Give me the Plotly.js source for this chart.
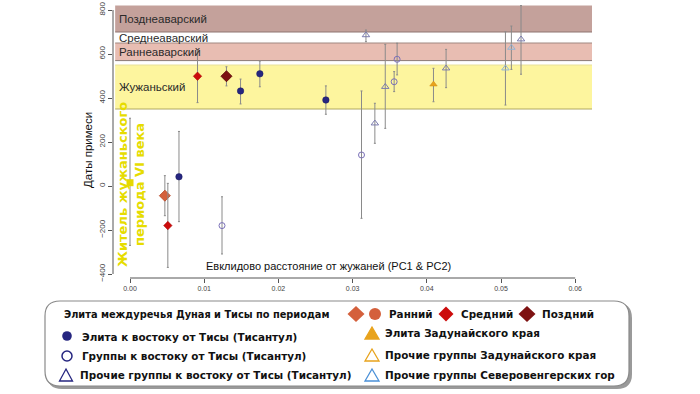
<!DOCTYPE html>
<html><head><meta charset="utf-8">
<script src="https://cdn.plot.ly/plotly-3.0.1.min.js"></script>
<style>html,body{margin:0;padding:0;background:#fff}#c{width:700px;height:394px}</style>
</head><body><div id="c"></div>
<script>
// ---- data ----
const periodNames = ["Позднеаварский","Среднеаварский","Раннеаварский","Жужаньский"];
const periodFrom  = [700, 650, 570, 350];
const periodTo    = [820, 700, 650, 550];

const zhuX = [0.0000], zhuY = [15], zhuLo = [-270], zhuHi = [308];
const earlyX = [0.0047], earlyY = [-44], earlyLo = [-135], earlyHi = [47];
const midX = [0.0051, 0.0091], midY = [-180, 499], midLo = [-370, 379], midHi = [12, 618];
const lateX = [0.0130], lateY = [499], lateLo = [455], lateHi = [542];
const eliteEastX = [0.0066, 0.0149, 0.0175, 0.0264];
const eliteEastY = [42, 432, 510, 391];
const eliteEastLo = [-162, 373, 451, 326];
const eliteEastHi = [248, 486, 568, 455];
const grpEastX = [0.0124, 0.0312, 0.0356, 0.0360];
const grpEastY = [-180, 141, 474, 576];
const grpEastLo = [-309, -147, 429, 505];
const grpEastHi = [-49, 432, 520, 649];
const othEastX = [0.0318, 0.0330, 0.0344, 0.0426, 0.0527];
const othEastY = [686, 285, 451, 535, 667];
const othEastLo = [656, 194, 262, 447, 508];
const othEastHi = [709, 376, 644, 621, 820];
const eliteTransX = [0.0409], eliteTransY = [462], eliteTransLo = [383], eliteTransHi = [535];
const northX = [0.0506, 0.0514], northY = [535, 629], northLo = [368, 530], northHi = [701, 727];

const xTicks = [0, 0.01, 0.02, 0.03, 0.04, 0.05, 0.06];
const yTicks = [-400, -200, 0, 200, 400, 600, 800];

const xTitle = "Евклидово расстояние от жужаней (PC1 & PC2)";
const yTitle = "Даты примеси";
const zhuLabel = "Житель жужаньского<br>периода VI века";

// ---- geometry (pixels) ----
const L = 113, R = 592, T = 5, B = 278;
const pxX = x => (x - L) / (R - L);
const pxY = y => (B - y) / (B - T);

function errTrace(x, y, lo, hi, symbol, size, color, lineColor, lineWidth) {
  return {
    type: "scatter", mode: "markers", x: x, y: y, showlegend: false, hoverinfo: "skip",
    marker: {symbol: symbol, size: size, color: color, line: {color: lineColor, width: lineWidth}},
    error_y: {type: "data", symmetric: false,
      array: hi.map((h, i) => h - y[i]), arrayminus: lo.map((l, i) => y[i] - l),
      color: "#8a8a8a", thickness: 1, width: 1}
  };
}

const traces = [
  errTrace(zhuX, zhuY, zhuLo, zhuHi, "square", 7, "#e6d800", "#e6d800", 0),
  errTrace(eliteEastX, eliteEastY, eliteEastLo, eliteEastHi, "circle", 6.5, "#262680", "#1a1a60", 0.5),
  errTrace(grpEastX, grpEastY, grpEastLo, grpEastHi, "circle-open", 6, "#7a70b8", "#7a70b8", 1),
  errTrace(othEastX, othEastY, othEastLo, othEastHi, "triangle-up-open", 6.5, "#7c7cae", "#7c7cae", 1),
  errTrace(northX, northY, northLo, northHi, "triangle-up-open", 6.5, "#8fb4d8", "#8fb4d8", 1),
  errTrace(eliteTransX, eliteTransY, eliteTransLo, eliteTransHi, "triangle-up", 6.5, "#e8a31c", "#d08c10", 0.5),
  errTrace(earlyX, earlyY, earlyLo, earlyHi, "diamond", 8.5, "#d4603c", "#b84a2a", 0.8),
  errTrace(midX, midY, midLo, midHi, "diamond", 6.5, "#cc0c0c", "#a00000", 0.5),
  errTrace(lateX, lateY, lateLo, lateHi, "diamond", 8.5, "#7e1212", "#5a0808", 0.8)
];

// ---- shapes ----
const bandFill = ["#c4a19b", "rgba(255,255,255,0)", "#e8bdb2", "#fdf59e"];
const shapes = [];
periodNames.forEach((n, i) => {
  shapes.push({type: "rect", layer: "below", xref: "x", yref: "y", x0: -0.002, x1: 0.0623,
    y0: periodFrom[i], y1: periodTo[i], fillcolor: bandFill[i], line: {width: 0}});
});
// band borders
[[700,"#8f7470"],[650,"#a08880"],[570,"#8a7a76"],[550,"#e8e09a"],[350,"#b0a860"]].forEach(b => {
  shapes.push({type: "line", layer: "below", xref: "x", yref: "y", x0: -0.002, x1: 0.0623,
    y0: b[0], y1: b[0], line: {color: b[1], width: 1}});
});
// axis lines
shapes.push({type: "line", xref: "paper", yref: "y", x0: 0, x1: 0, y0: -400, y1: 800, line: {color: "#555", width: 1}});
shapes.push({type: "line", xref: "x", yref: "paper", x0: 0, x1: 0.06, y0: 0, y1: 0, line: {color: "#555", width: 1}});

// legend box
function roundRect(x0, y0, x1, y1, r) {
  const P = (x, y) => pxX(x) + "," + pxY(y);
  return "M" + P(x0 + r, y0) + " L" + P(x1 - r, y0) + " Q" + P(x1, y0) + " " + P(x1, y0 + r) +
    " L" + P(x1, y1 - r) + " Q" + P(x1, y1) + " " + P(x1 - r, y1) +
    " L" + P(x0 + r, y1) + " Q" + P(x0, y1) + " " + P(x0, y1 - r) +
    " L" + P(x0, y0 + r) + " Q" + P(x0, y0) + " " + P(x0 + r, y0) + " Z";
}
shapes.push({type: "path", xref: "paper", yref: "paper", path: roundRect(47, 303, 632, 389, 15), fillcolor: "#9a9a9a", line: {width: 0}});
shapes.push({type: "path", xref: "paper", yref: "paper", path: roundRect(45, 301, 629, 386, 15), fillcolor: "#ffffff", line: {color: "#8a8a8a", width: 1.2}});

function lgDiamond(cx, cy, w, h, fill) {
  const P = (x, y) => pxX(x) + "," + pxY(y);
  shapes.push({type: "path", xref: "paper", yref: "paper",
    path: "M" + P(cx, cy - h/2) + " L" + P(cx + w/2, cy) + " L" + P(cx, cy + h/2) + " L" + P(cx - w/2, cy) + " Z",
    fillcolor: fill, line: {width: 0}});
}
function lgTri(cx, cy, w, h, fill, stroke) {
  const P = (x, y) => pxX(x) + "," + pxY(y);
  shapes.push({type: "path", xref: "paper", yref: "paper",
    path: "M" + P(cx, cy - h/2) + " L" + P(cx + w/2, cy + h/2) + " L" + P(cx - w/2, cy + h/2) + " Z",
    fillcolor: fill, line: {color: stroke, width: 1.3}});
}
function lgCircle(cx, cy, r, fill, stroke, lw) {
  shapes.push({type: "circle", xref: "paper", yref: "paper",
    x0: pxX(cx - r), x1: pxX(cx + r), y0: pxY(cy + r), y1: pxY(cy - r),
    fillcolor: fill, line: {color: stroke, width: lw}});
}
lgDiamond(356, 314, 17, 16, "#d4603c");
lgCircle(375, 314, 6, "#d4603c", "#d4603c", 0);
lgDiamond(446, 314, 15, 15, "#cc0c0c");
lgDiamond(527, 314, 17, 16, "#7e1212");
lgCircle(67, 336, 4.8, "#262680", "#262680", 0);
lgCircle(67, 356, 5, "rgba(0,0,0,0)", "#262680", 1.5);
lgTri(66, 375, 13, 12, "rgba(0,0,0,0)", "#262680");
lgTri(372, 333, 14, 12, "#e8a31c", "#e8a31c");
lgTri(372, 355, 14, 12, "rgba(0,0,0,0)", "#e8a31c");
lgTri(372, 375, 14, 12, "rgba(0,0,0,0)", "#4a90d8");

// ---- annotations ----
const ann = [];
const bandTxt = [760, 675, 610, 452];
periodNames.forEach((n, i) => {
  ann.push({xref: "paper", yref: "y", x: pxX(117), y: bandTxt[i], text: n, showarrow: false,
    xanchor: "left", yanchor: "middle", font: {family: "Liberation Sans, Arial", size: 11.5, color: "#2a2a2a"}});
});
ann.push({xref: "paper", yref: "paper", x: pxX(328), y: pxY(266), text: xTitle, showarrow: false,
  xanchor: "center", yanchor: "middle", font: {family: "Liberation Sans, Arial", size: 11, color: "#111"}});
ann.push({xref: "paper", yref: "paper", x: pxX(88), y: pxY(150), text: yTitle, showarrow: false, textangle: -90,
  xanchor: "center", yanchor: "middle", font: {family: "Liberation Sans, Arial", size: 11.5, color: "#111"}});
ann.push({xref: "paper", yref: "paper", x: pxX(131), y: pxY(185), text: zhuLabel, showarrow: false, textangle: -90,
  xanchor: "center", yanchor: "middle", align: "center",
  font: {family: "DejaVu Sans", size: 13, color: "#e6dc00", weight: 600}});

function lgText(x, y, t, size) {
  ann.push({xref: "paper", yref: "paper", x: pxX(x), y: pxY(y), text: "<b>" + t + "</b>", showarrow: false,
    xanchor: "left", yanchor: "middle", font: {family: "DejaVu Sans", size: size || 10.4, color: "#111", weight: "bold"}});
}
lgText(62, 314, "Элита междуречья Дуная и Тисы по периодам", 9.8);
lgText(387, 314, "Ранний");
lgText(459, 314, "Средний");
lgText(540, 314, "Поздний");
lgText(80, 336.5, "Элита к востоку от Тисы (Тисантул)");
lgText(80, 356.5, "Группы к востоку от Тисы (Тисантул)");
lgText(78, 375, "Прочие группы к востоку от Тисы (Тисантул)");
lgText(383, 333, "Элита Задунайского края");
lgText(383, 355, "Прочие группы Задунайского края");
lgText(383, 375, "Прочие группы Северовенгерских гор");

const layout = {
  width: 700, height: 394,
  margin: {l: L, r: 700 - R, t: T, b: 394 - B, pad: 0},
  paper_bgcolor: "#fff", plot_bgcolor: "#fff",
  showlegend: false,
  xaxis: {range: [(L - 130) / 7420, (R - 130) / 7420], showgrid: false, zeroline: false, showline: false,
    tickvals: xTicks, tickformat: ".2f", ticks: "outside", ticklen: 4, tickcolor: "#555",
    tickfont: {family: "Liberation Sans, Arial", size: 7, color: "#444"}},
  yaxis: {range: [800 - (B - 10) / 0.22, 800 + (10 - T) / 0.22], showgrid: false, zeroline: false, showline: false,
    tickvals: yTicks, ticks: "outside", ticklen: 4, tickcolor: "#555", tickangle: -90,
    tickfont: {family: "Liberation Sans, Arial", size: 8, color: "#444"}},
  shapes: shapes, annotations: ann
};
Plotly.newPlot("c", traces, layout, {staticPlot: true, displayModeBar: false});
</script></body></html>
